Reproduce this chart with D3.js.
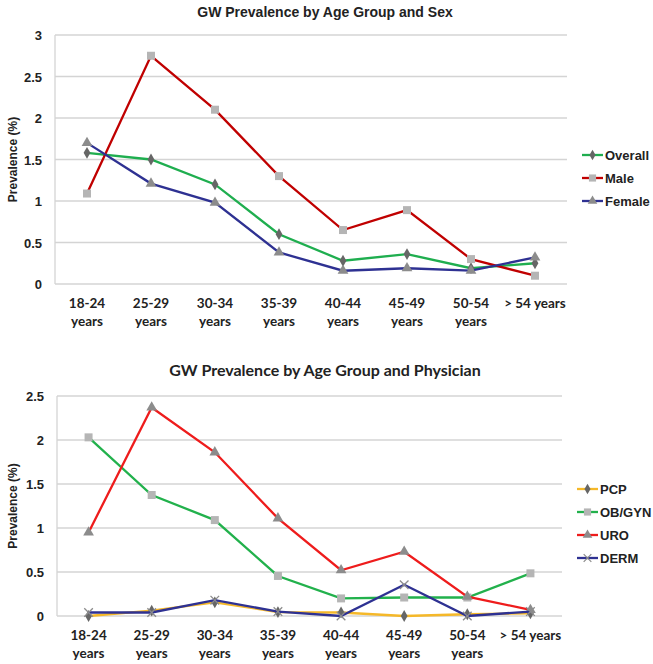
<!DOCTYPE html>
<html lang="en">
<head>
  <meta charset="UTF-8">
  <title>GW Prevalence by Age Group</title>
  <script src="https://d3js.org/d3.v7.min.js"></script>
  <style>
    body { margin: 0; background: #fff; }
    .title { font-family: "Liberation Sans", Arial, sans-serif; font-weight: bold; font-size: 14px; fill: #222; }
    .title2 { font-family: Lato, "Open Sans", sans-serif; font-weight: bold; font-size: 16px; fill: #222; }
    .tick-y { font-family: "Liberation Sans", Arial, sans-serif; font-weight: bold; font-size: 13px; fill: #222; }
    .tick-x { font-family: Lato, "Open Sans", sans-serif; font-weight: bold; font-size: 13.5px; fill: #222; }
    .legend { font-family: "Liberation Sans", Arial, sans-serif; font-weight: bold; font-size: 13px; fill: #222; }
    .axis-title { font-family: "Liberation Sans", Arial, sans-serif; font-weight: bold; font-size: 12px; fill: #222; }
  </style>
</head>
<body>
  <div id="chart"></div>
  <script>
    // Age groups (x axis), each label split over two lines
    const ageGroups = ["18-24 years", "25-29 years", "30-34 years", "35-39 years",
                       "40-44 years", "45-49 years", "50-54 years", "> 54 years"];

    // Chart 1: by sex
    const sexTicks = [0, 0.5, 1, 1.5, 2, 2.5, 3];
    const overall = [1.58, 1.50, 1.20, 0.60, 0.28, 0.36, 0.19, 0.25];
    const male    = [1.09, 2.75, 2.10, 1.30, 0.65, 0.89, 0.30, 0.10];
    const female  = [1.70, 1.21, 0.98, 0.38, 0.16, 0.19, 0.16, 0.32];

    // Chart 2: by physician
    const physTicks = [0, 0.5, 1, 1.5, 2, 2.5];
    const pcp   = [0.00, 0.06, 0.155, 0.045, 0.04, 0.00, 0.02, 0.03];
    const obgyn = [2.03, 1.375, 1.09, 0.455, 0.20, 0.21, 0.21, 0.485];
    const uro   = [0.95, 2.37, 1.86, 1.11, 0.52, 0.73, 0.22, 0.07];
    const derm  = [0.04, 0.04, 0.18, 0.05, 0.00, 0.355, 0.00, 0.05];

    const symX = d3.symbolTimes || d3.symbolX || d3.symbolCross;

    const svg = d3.select("#chart").append("svg")
      .attr("width", 653).attr("height", 664);

    function drawChart(cfg) {
      const g = svg.append("g");
      const x = d3.scaleBand().domain(ageGroups).range([cfg.left, cfg.right]);
      const y = d3.scaleLinear().domain([0, d3.max(cfg.ticks)]).range([cfg.bottom, cfg.top]);
      const cx = d => x(d) + x.bandwidth() / 2;

      // gridlines
      g.selectAll(".grid").data(cfg.ticks).enter().append("line")
        .attr("x1", cfg.left).attr("x2", cfg.right)
        .attr("y1", d => y(d)).attr("y2", d => y(d))
        .attr("stroke", "#d4d4d4").attr("stroke-width", 1.3);
      // left axis line
      g.append("line")
        .attr("x1", cfg.left).attr("x2", cfg.left)
        .attr("y1", cfg.top).attr("y2", cfg.bottom)
        .attr("stroke", "#d4d4d4").attr("stroke-width", 1.3);

      // y tick labels
      g.selectAll(".ty").data(cfg.ticks).enter().append("text")
        .attr("class", "tick-y")
        .attr("x", cfg.left - 13).attr("y", d => y(d) + 5)
        .attr("text-anchor", "end")
        .text(d => d);

      // x tick labels
      ageGroups.forEach(a => {
        const t = g.append("text").attr("class", "tick-x").attr("text-anchor", "middle");
        if (a.startsWith(">")) {
          t.attr("x", cx(a)).attr("y", cfg.xLabelY).text(a);
        } else {
          const parts = a.split(" ");
          t.append("tspan").attr("x", cx(a)).attr("y", cfg.xLabelY).text(parts[0]);
          t.append("tspan").attr("x", cx(a)).attr("y", cfg.xLabelY + 18).text(parts[1]);
        }
      });

      // title
      g.append("text").attr("class", cfg.titleClass)
        .attr("x", cfg.titleX).attr("y", cfg.titleY)
        .attr("text-anchor", "middle").text(cfg.title);

      // y axis title
      g.append("text").attr("class", "axis-title")
        .attr("transform", `translate(17,${(cfg.top + cfg.bottom) / 2}) rotate(-90)`)
        .attr("text-anchor", "middle").text("Prevalence (%)");

      const line = d3.line().x((d, i) => cx(ageGroups[i])).y(d => y(d));

      cfg.series.forEach((s, k) => {
        g.append("path").datum(s.values)
          .attr("d", line).attr("fill", "none")
          .attr("stroke", s.color).attr("stroke-width", 2.3);
        g.selectAll(null).data(s.values).enter().append("path")
          .attr("transform", (d, i) => `translate(${cx(ageGroups[i])},${y(d)})`)
          .attr("d", d3.symbol().type(s.symbol).size(s.size))
          .attr("fill", s.symbol === symX ? "none" : s.markerColor)
          .attr("stroke", s.symbol === symX ? s.markerColor : "none")
          .attr("stroke-width", 1.3);

        // legend
        const ly = cfg.legendY + k * cfg.legendStep;
        g.append("line")
          .attr("x1", cfg.legendX).attr("x2", cfg.legendX + 21)
          .attr("y1", ly).attr("y2", ly)
          .attr("stroke", s.color).attr("stroke-width", 2.3);
        g.append("path")
          .attr("transform", `translate(${cfg.legendX + 10.5},${ly})`)
          .attr("d", d3.symbol().type(s.symbol).size(s.size * 0.8))
          .attr("fill", s.symbol === symX ? "none" : s.markerColor)
          .attr("stroke", s.symbol === symX ? s.markerColor : "none")
          .attr("stroke-width", 1.2);
        g.append("text").attr("class", "legend")
          .attr("x", cfg.legendX + 23).attr("y", ly + 5)
          .text(s.name);
      });
    }

    drawChart({
      title: "GW Prevalence by Age Group and Sex", titleClass: "title",
      titleX: 325, titleY: 17,
      left: 55, right: 567, top: 35, bottom: 284,
      ticks: sexTicks, xLabelY: 308,
      legendX: 582, legendY: 155, legendStep: 23,
      series: [
        { name: "Overall", values: overall, color: "#1fae4f", markerColor: "#666", symbol: d3.symbolDiamond, size: 40 },
        { name: "Male", values: male, color: "#c00000", markerColor: "#b5b5b5", symbol: d3.symbolSquare, size: 64 },
        { name: "Female", values: female, color: "#2e3192", markerColor: "#8c8c8c", symbol: d3.symbolTriangle, size: 50 }
      ]
    });

    drawChart({
      title: "GW Prevalence by Age Group and Physician", titleClass: "title2",
      titleX: 325, titleY: 376,
      left: 57, right: 562, top: 396, bottom: 616,
      ticks: physTicks, xLabelY: 640,
      legendX: 577, legendY: 489, legendStep: 23,
      series: [
        { name: "PCP", values: pcp, color: "#f5b829", markerColor: "#666", symbol: d3.symbolDiamond, size: 40 },
        { name: "OB/GYN", values: obgyn, color: "#22b14c", markerColor: "#b5b5b5", symbol: d3.symbolSquare, size: 64 },
        { name: "URO", values: uro, color: "#ee1c1c", markerColor: "#8c8c8c", symbol: d3.symbolTriangle, size: 50 },
        { name: "DERM", values: derm, color: "#2e3192", markerColor: "#8c8c8c", symbol: symX, size: 50 }
      ]
    });
  </script>
</body>
</html>
